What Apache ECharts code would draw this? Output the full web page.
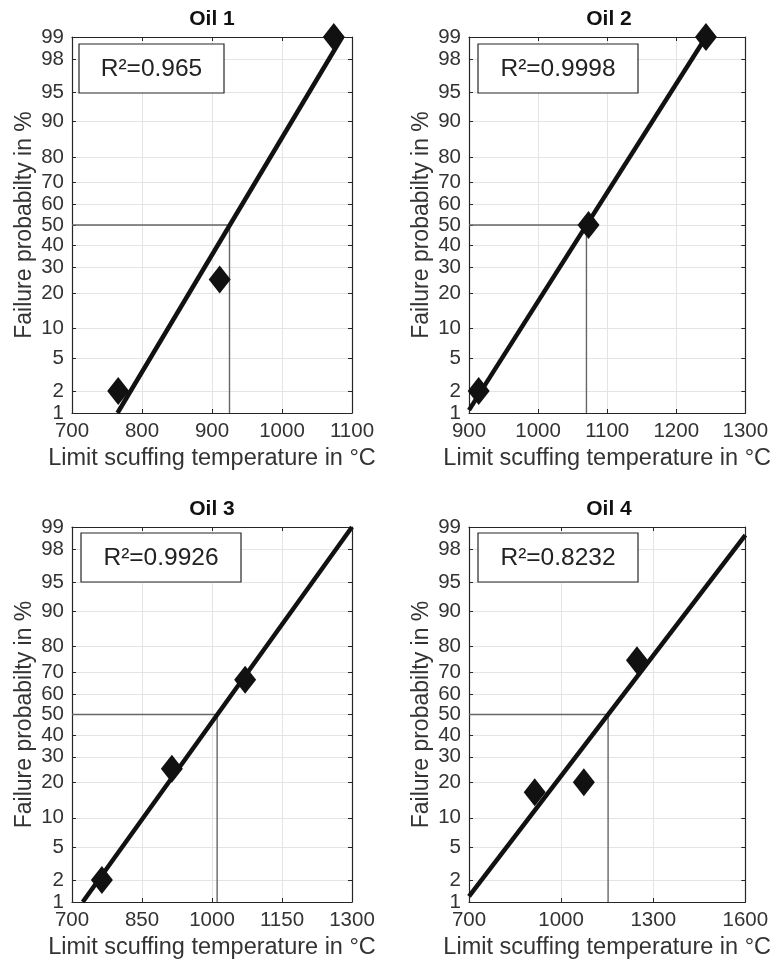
<!DOCTYPE html>
<html><head><meta charset="utf-8">
<script src="https://cdn.jsdelivr.net/npm/echarts@6/dist/echarts.min.js"></script>
<style>html,body{margin:0;padding:0;background:#fff}#c{width:773px;height:963px}</style>
</head><body><div id="c"></div>
<script>
// ---------- data ----------
const titles = ['Oil 1', 'Oil 2', 'Oil 3', 'Oil 4'];
const r2Labels = ['R²=0.965', 'R²=0.9998', 'R²=0.9926', 'R²=0.8232'];
const xMin = [700, 900, 700, 700];
const xMax = [1100, 1300, 1300, 1600];
const xStep = [100, 100, 150, 300];
const probTicks = [1, 2, 5, 10, 20, 30, 40, 50, 60, 70, 80, 90, 95, 98, 99];
const oil1Temp = [766, 911, 1074];
const oil1Prob = [2, 25, 99];
const oil2Temp = [914, 1073, 1243];
const oil2Prob = [2, 50, 99];
const oil3Temp = [764, 914, 1071];
const oil3Prob = [2, 25, 66.7];
const oil4Temp = [914, 1074, 1247];
const oil4Prob = [16.7, 20, 75];
const fitTemp = [[765, 1086], [900, 1243], [723, 1300], [700, 1600]];
const fitProb = [[1, 99], [1.1, 99], [1, 99], [1.2, 98.7]];
const medianTemp = [925, 1070, 1011, 1153];
const xName = 'Limit scuffing temperature in °C';
const yName = 'Failure probabilty in %';

const pointsTemp = [oil1Temp, oil2Temp, oil3Temp, oil4Temp];
const pointsProb = [oil1Prob, oil2Prob, oil3Prob, oil4Prob];

// ---------- normal probability scale ----------
function probit(p) {
  const a=[-3.969683028665376e+01,2.209460984245205e+02,-2.759285104469687e+02,1.383577518672690e+02,-3.066479806614716e+01,2.506628277459239e+00];
  const b=[-5.447609879822406e+01,1.615858368580409e+02,-1.556989798598866e+02,6.680131188771972e+01,-1.328068155288572e+01];
  const c=[-7.784894002430293e-03,-3.223964580411365e-01,-2.400758277161838e+00,-2.549732539343734e+00,4.374664141464968e+00,2.938163982698783e+00];
  const d=[7.784695709041462e-03,3.224671290700398e-01,2.445134137142996e+00,3.754408661907416e+00];
  const pl=0.02425, ph=1-pl; let q, r;
  if (p < pl) { q=Math.sqrt(-2*Math.log(p)); return (((((c[0]*q+c[1])*q+c[2])*q+c[3])*q+c[4])*q+c[5])/((((d[0]*q+d[1])*q+d[2])*q+d[3])*q+1); }
  if (p <= ph) { q=p-0.5; r=q*q; return (((((a[0]*r+a[1])*r+a[2])*r+a[3])*r+a[4])*r+a[5])*q/(((((b[0]*r+b[1])*r+b[2])*r+b[3])*r+b[4])*r+1); }
  q=Math.sqrt(-2*Math.log(1-p)); return -(((((c[0]*q+c[1])*q+c[2])*q+c[3])*q+c[4])*q+c[5])/((((d[0]*q+d[1])*q+d[2])*q+d[3])*q+1);
}
const Z = pct => probit(pct / 100);
const zTicks = probTicks.map(Z);
const zLo = Z(probTicks[0]), zHi = Z(probTicks[probTicks.length - 1]);
function yLabel(v) {
  for (let k = 0; k < zTicks.length; k++) if (Math.abs(zTicks[k] - v) < 1e-6) return String(probTicks[k]);
  return '';
}

// ---------- layout ----------
const grids = [
  {left: 72, top: 37, width: 280, height: 376},
  {left: 469, top: 37, width: 280, height: 376},
  {left: 72, top: 527, width: 280, height: 375},
  {left: 469, top: 527, width: 280, height: 375}
];
const titleY = [19, 19, 509, 509];
const boxes = [
  {x: 79, y: 44, w: 145, h: 49},
  {x: 478, y: 44, w: 160, h: 49},
  {x: 81, y: 533, w: 160, h: 49},
  {x: 478, y: 533, w: 160, h: 49}
];
const FONT = 'Liberation Sans, Arial, Helvetica, sans-serif';
const AX = '#262626', TXT = '#333333', GRID = '#e4e4e4';

const xAxes = [], yAxes = [], series = [], graphic = [];
for (let i = 0; i < 4; i++) {
  const lineCommon = {show: true, onZero: false, lineStyle: {color: AX, width: 1.2}};
  const tickCommon = {show: true, inside: true, length: 4, lineStyle: {color: AX, width: 1}};
  xAxes.push({
    gridIndex: i, type: 'value', position: 'bottom', min: xMin[i], max: xMax[i], interval: xStep[i],
    axisLine: lineCommon, axisTick: tickCommon,
    axisLabel: {color: TXT, fontSize: 20.5, margin: 8, fontFamily: FONT, formatter: v => String(v)},
    splitLine: {show: true, lineStyle: {color: GRID, width: 1}},
    name: xName, nameLocation: 'middle', nameGap: 34,
    nameTextStyle: {color: TXT, fontSize: 23.5, fontFamily: FONT}
  });
  xAxes.push({
    gridIndex: i, type: 'value', position: 'top', min: xMin[i], max: xMax[i], interval: xStep[i],
    axisLine: lineCommon, axisTick: tickCommon, axisLabel: {show: false}, splitLine: {show: false}
  });
  yAxes.push({
    gridIndex: i, type: 'value', position: 'left', min: zLo, max: zHi,
    axisLine: lineCommon,
    axisTick: Object.assign({customValues: zTicks}, tickCommon),
    axisLabel: {customValues: zTicks, formatter: yLabel, color: TXT, fontSize: 20.5, margin: 8, fontFamily: FONT},
    splitLine: {show: true, lineStyle: {color: GRID, width: 1}},
    name: yName, nameLocation: 'middle', nameGap: 36, nameRotate: 90,
    nameTextStyle: {color: TXT, fontSize: 23, fontFamily: FONT}
  });
  yAxes.push({
    gridIndex: i, type: 'value', position: 'right', min: zLo, max: zHi,
    axisLine: lineCommon,
    axisTick: Object.assign({customValues: zTicks}, tickCommon),
    axisLabel: {show: false}, splitLine: {show: false}
  });
  const xi = 2 * i, yi = 2 * i;
  // 50% guide lines
  series.push({
    type: 'line', xAxisIndex: xi, yAxisIndex: yi, silent: true, symbol: 'none', z: 2,
    lineStyle: {color: '#666666', width: 1.4},
    data: [[xMin[i], Z(50)], [medianTemp[i], Z(50)], [medianTemp[i], zLo]]
  });
  // fit line
  series.push({
    type: 'line', xAxisIndex: xi, yAxisIndex: yi, silent: true, symbol: 'none', z: 3, clip: true,
    lineStyle: {color: '#111111', width: 4.5},
    data: fitTemp[i].map((t, k) => [t, Z(fitProb[i][k])])
  });
  // data points
  series.push({
    type: 'scatter', xAxisIndex: xi, yAxisIndex: yi, symbol: 'diamond', symbolSize: [22, 28], z: 4, clip: false,
    itemStyle: {color: '#111111', opacity: 1},
    data: pointsTemp[i].map((t, k) => [t, Z(pointsProb[i][k])])
  });
  // title
  graphic.push({
    type: 'text', x: grids[i].left + grids[i].width / 2, y: titleY[i], z: 10,
    style: {text: titles[i], fontSize: 21, fontWeight: 'bold', fontFamily: FONT, fill: '#111',
             align: 'center', verticalAlign: 'middle'}
  });
  // R² box
  const b = boxes[i];
  graphic.push({
    type: 'rect', x: b.x, y: b.y, z: 10, shape: {x: 0, y: 0, width: b.w, height: b.h},
    style: {fill: '#fff', stroke: AX, lineWidth: 1.2}
  });
  graphic.push({
    type: 'text', x: b.x + b.w / 2, y: b.y + b.h / 2 + 1, z: 11,
    style: {text: r2Labels[i], fontSize: 24.5, fontFamily: FONT, fill: '#222',
            align: 'center', verticalAlign: 'middle'}
  });
}

const chart = echarts.init(document.getElementById('c'), null, {renderer: 'canvas'});
chart.setOption({
  animation: false,
  backgroundColor: '#fff',
  grid: grids.map(g => Object.assign({containLabel: false, show: false}, g)),
  xAxis: xAxes, yAxis: yAxes, series: series, graphic: graphic
});
</script></body></html>
